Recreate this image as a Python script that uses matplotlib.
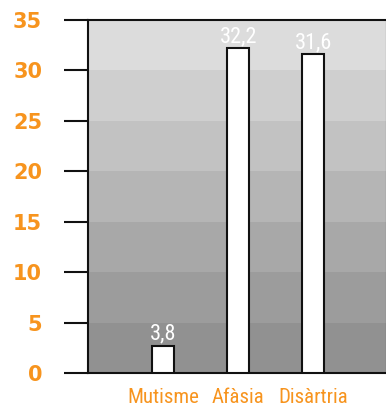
import matplotlib
matplotlib.use('Agg')
from matplotlib import pyplot as plt
from matplotlib import font_manager

categories = ['Mutisme', 'Afàsia', 'Disàrtria']
# bar heights as drawn in the chart, and the printed value labels
heights = [2.7, 32.2, 31.6]
value_labels = ['3,8', '32,2', '31,6']
yticks = [0, 5, 10, 15, 20, 25, 30, 35]

orange = '#F7941E'
band_colors = ['#919191', '#9C9C9C', '#A8A8A8', '#B5B5B5',
               '#C2C2C2', '#CFCFCF', '#DCDCDC']

names = set(f.name for f in font_manager.fontManager.ttflist)
narrow = [n for n in ['Liberation Sans Narrow', 'Roboto Condensed',
                      'DejaVu Sans Condensed'] if n in names] + ['DejaVu Sans']

fig = plt.figure(figsize=(3.86, 4.07), dpi=100)
ax = fig.add_axes([0.228, 0.0835, 0.772, 0.8675])

# gray gradient bands behind the bars
for i, c in enumerate(band_colors):
    ax.axhspan(yticks[i], yticks[i + 1], color=c, lw=0, zorder=0)

x = range(len(categories))
bars = ax.bar(x, heights, width=0.29, color='white', edgecolor='#111111',
              linewidth=1.5, zorder=3)

for b, lab in zip(bars, value_labels):
    ax.annotate(lab, (b.get_x() + b.get_width() / 2, b.get_height()),
                xytext=(0, 4.5), textcoords='offset points',
                ha='center', va='baseline', color='white',
                fontsize=16, family=narrow, zorder=4)

ax.set_xlim(-1.0, 2.97)
ax.set_ylim(0, 35)
ax.set_yticks(yticks)
ax.set_xticks(list(x))
ax.set_xticklabels(categories, color=orange, fontsize=15, family=narrow)
for t in ax.get_yticklabels():
    t.set_color(orange)
    t.set_fontweight('bold')
    t.set_fontsize(15)

ax.tick_params(axis='y', length=17, width=1.5, pad=16, color='#111111')
ax.tick_params(axis='x', length=0, pad=11)

for s in ['left', 'top', 'bottom']:
    ax.spines[s].set_linewidth(1.5)
    ax.spines[s].set_color('#111111')
ax.spines['right'].set_linewidth(0.8)
ax.spines['right'].set_color('#444444')

plt.savefig('out.png', dpi=100)
